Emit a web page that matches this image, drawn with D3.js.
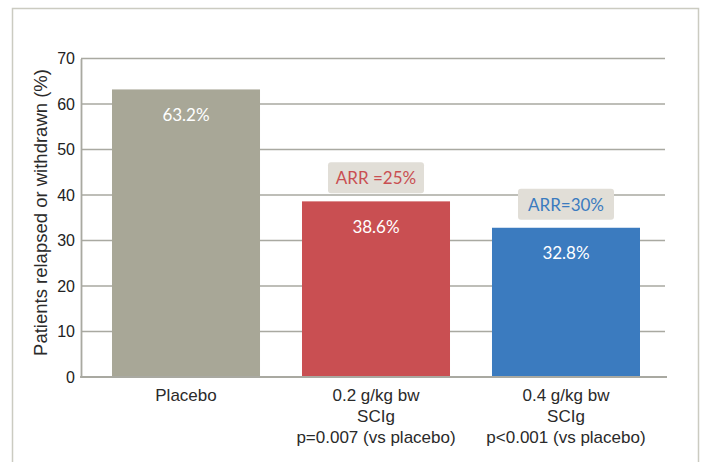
<!DOCTYPE html>
<html>
<head>
<meta charset="utf-8">
<script src="https://cdn.jsdelivr.net/npm/d3@7"></script>
<style>
  html, body { margin: 0; padding: 0; background: #fff; }
  svg { display: block; }
</style>
</head>
<body>
<svg id="chart" width="704" height="462"></svg>
<script>
const categories = ["Placebo", "0.2 g/kg bw|SCIg|p=0.007 (vs placebo)", "0.4 g/kg bw|SCIg|p<0.001 (vs placebo)"];
const values = [63.2, 38.6, 32.8];
const valueLabels = ["63.2%", "38.6%", "32.8%"];
const arrLabels = [null, "ARR =25%", "ARR=30%"];
const yTicks = [0, 10, 20, 30, 40, 50, 60, 70];
const colors = ["#a8a797", "#c94f52", "#3b7bbf"];
const arrColors = [null, "#c94f52", "#3b7bbf"];

const svg = d3.select("#chart");

// frame
svg.append("rect")
  .attr("x", 12.5).attr("y", 8.5).attr("width", 686).attr("height", 470)
  .attr("fill", "#fff").attr("stroke", "#cbcbc1").attr("stroke-width", 1.5);

const y = d3.scaleLinear().domain([0, 70]).range([377, 58.5]);
const x = d3.scaleBand().domain(categories).range([112, 640]).paddingInner(0.221).paddingOuter(0);

const axisLeft = 81, axisRight = 667;

// gridlines
svg.append("g").selectAll("line").data(yTicks.filter(d => d > 0)).join("line")
  .attr("x1", axisLeft).attr("x2", axisRight - 2)
  .attr("y1", d => y(d)).attr("y2", d => y(d))
  .attr("stroke", "#a9a9a1").attr("stroke-width", 1.3);

// bars
svg.append("g").selectAll("rect").data(values).join("rect")
  .attr("x", (d, i) => x(categories[i]))
  .attr("width", x.bandwidth())
  .attr("y", d => y(d))
  .attr("height", d => y(0) - y(d))
  .attr("fill", (d, i) => colors[i]);

// y axis
const yAxis = d3.axisLeft(y).tickValues(yTicks).tickSize(0).tickPadding(6).tickFormat(d3.format("d"));
const gy = svg.append("g").attr("transform", `translate(${axisLeft},0)`).call(yAxis);
gy.select(".domain").attr("stroke", "#a9a9a1").attr("stroke-width", 1.8);
gy.selectAll("text").attr("font-family", "Liberation Sans, Arial, sans-serif")
  .attr("font-size", 16).attr("fill", "#222");

// x axis baseline
svg.append("line").attr("x1", axisLeft - 0.9).attr("x2", axisRight)
  .attr("y1", y(0)).attr("y2", y(0))
  .attr("stroke", "#a9a9a1").attr("stroke-width", 2);

// category labels
const xl = svg.append("g");
categories.forEach((c, i) => {
  const t = xl.append("text")
    .attr("x", x(c) + x.bandwidth() / 2)
    .attr("y", 401)
    .attr("text-anchor", "middle")
    .attr("font-family", "Liberation Sans, Arial, sans-serif")
    .attr("font-size", 17)
    .attr("fill", "#2a2a2a");
  c.split("|").forEach((line, j) => {
    t.append("tspan").attr("x", x(c) + x.bandwidth() / 2).attr("dy", j === 0 ? 0 : 21).text(line);
  });
});

// y title
svg.append("text")
  .attr("transform", `translate(40,${(62 + 363) / 2}) rotate(-90)`)
  .attr("text-anchor", "middle")
  .attr("dominant-baseline", "central")
  .attr("font-family", "Liberation Sans, Arial, sans-serif")
  .attr("font-size", 18.5)
  .attr("fill", "#2a2a2a")
  .text("Patients relapsed or withdrawn (%)");

// value labels
svg.append("g").selectAll("text").data(values).join("text")
  .attr("x", (d, i) => x(categories[i]) + x.bandwidth() / 2)
  .attr("y", d => y(d) + 25)
  .attr("text-anchor", "middle")
  .attr("dominant-baseline", "central")
  .attr("font-family", "Lato, sans-serif")
  .attr("font-size", 17)
  .attr("fill", "#fff")
  .text((d, i) => valueLabels[i]);

// ARR boxes
values.forEach((v, i) => {
  if (!arrLabels[i]) return;
  const cx = x(categories[i]) + x.bandwidth() / 2;
  const bottom = y(v) - 8;
  svg.append("rect")
    .attr("x", cx - 48).attr("y", bottom - 31).attr("width", 96).attr("height", 31)
    .attr("rx", 3).attr("fill", "#e1ded7");
  svg.append("text")
    .attr("x", cx).attr("y", bottom - 15.5)
    .attr("text-anchor", "middle").attr("dominant-baseline", "central")
    .attr("font-family", "Lato, sans-serif").attr("font-size", 17)
    .attr("fill", arrColors[i])
    .text(arrLabels[i]);
});
</script>
</body>
</html>
